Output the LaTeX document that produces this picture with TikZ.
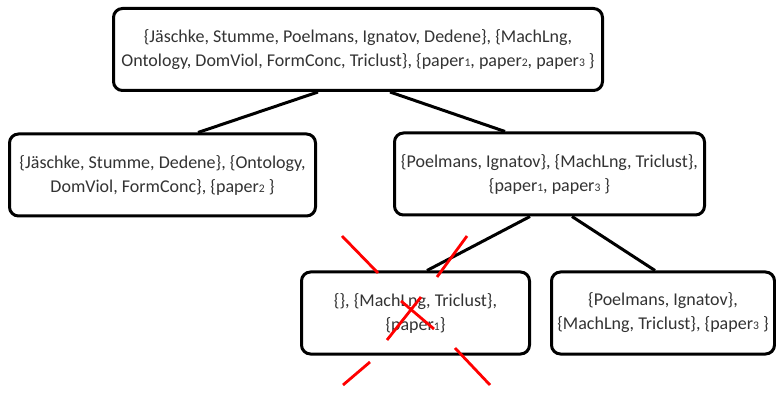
\documentclass[tikz,border=0pt]{standalone}
\usepackage{fontspec}
\setmainfont{Carlito}
\definecolor{txt}{HTML}{333333}
\newcommand\sm[1]{{\fontsize{11.6}{11.6}\selectfont #1}}
\begin{document}
\begin{tikzpicture}[x=1pt,y=-1pt,
  box/.style={draw=black, line width=3pt, rounded corners=9pt, fill=white,
    align=center, text=txt, inner sep=0pt, minimum height=82pt,
    font=\fontsize{18}{24}\selectfont},
  link/.style={draw=black, line width=3pt},
  cross/.style={draw=red, line width=2.8pt}]
\useasboundingbox (0,0) rectangle (776,395);
\node[box, minimum width=489pt] (top) at (358,49.5)
  {\{Jäschke, Stumme, Poelmans, Ignatov, Dedene\}, \{MachLng,\\
   Ontology, DomViol, FormConc, Triclust\}, \{paper\sm{1}, paper\sm{2}, paper\sm{3} \}};
\node[box, minimum width=306pt] (left) at (162.5,175)
  {\{Jäschke, Stumme, Dedene\}, \{Ontology,\\ DomViol, FormConc\}, \{paper\sm{2} \}};
\node[box, minimum width=310pt] (right) at (549.5,174)
  {\{Poelmans, Ignatov\}, \{MachLng, Triclust\},\\ \{paper\sm{1}, paper\sm{3} \}};
\node[box, minimum width=228pt] (bl) at (415.5,313)
  {\{\}, \{MachLng, Triclust\},\\ \{paper\sm{1}\}};
\node[box, minimum width=223pt] (br) at (663,313)
  {\{Poelmans, Ignatov\},\\ \{MachLng, Triclust\}, \{paper\sm{3} \}};
\draw[link] ([xshift=-40pt]top.south) -- ([xshift=35.5pt]left.north);
\draw[link] ([xshift=32pt]top.south) -- ([xshift=-44.5pt]right.north);
\draw[link] ([xshift=-19.5pt]right.south) -- ([xshift=11.5pt]bl.north);
\draw[link] ([xshift=22.5pt]right.south) -- ([xshift=-8pt]br.north);
\draw[cross] (342,236) -- (378,273);
\draw[cross] (401,301) -- (434,329);
\draw[cross] (455,348) -- (490,385);
\draw[cross] (467,236) -- (437,277);
\draw[cross] (421,297) -- (387,340);
\draw[cross] (370,362) -- (343,385);
\end{tikzpicture}
\end{document}
